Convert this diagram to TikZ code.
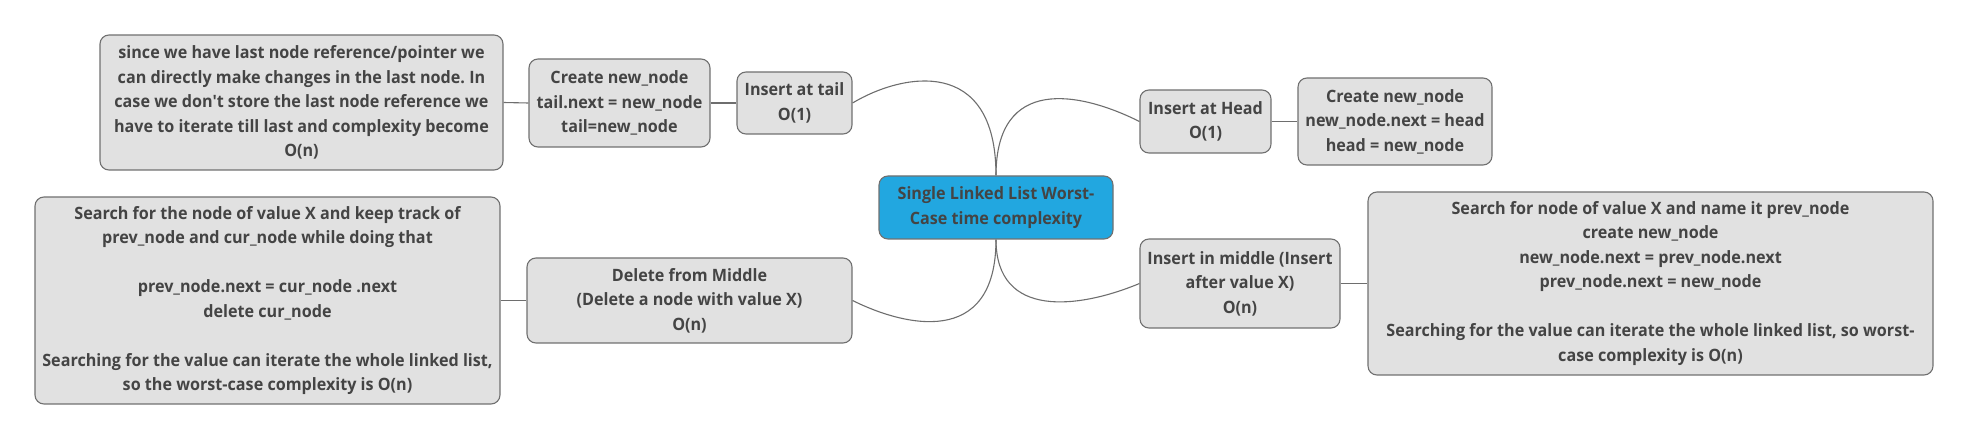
\documentclass[tikz,border=0pt]{standalone}
\usepackage{fontspec}
\setmainfont{Open Sans}[FakeStretch=0.95, Ligatures=TeXOff]
\frenchspacing
\definecolor{txt}{HTML}{444444}
\definecolor{boxfill}{HTML}{E1E1E1}
\definecolor{boxdraw}{HTML}{707070}
\definecolor{rootfill}{HTML}{22A7E0}
\definecolor{linec}{HTML}{6E6E6E}
\begin{document}
\begin{tikzpicture}[x=1pt,y=-1pt,
  box/.style={draw=boxdraw, fill=boxfill, rounded corners=9pt, line width=1.1pt,
    align=center, text=txt, inner sep=0pt,
    font=\fontsize{17}{24.5}\selectfont\bfseries\frenchspacing},
  root/.style={box, fill=rootfill},
  conn/.style={draw=linec, line width=1.1pt}]
\useasboundingbox (0,0) rectangle (1971,443);
\node[box, minimum width=403pt, minimum height=135pt] (A) at (301.5,102.5)
  {since we have last node reference/pointer we\\can directly make changes in the last node. In\\case we don't store the last node reference we\\have to iterate till last and complexity become\\O(n)};
\node[box, minimum width=181pt, minimum height=88pt] (B) at (619.5,103)
  {Create new\_node\\tail.next = new\_node\\tail=new\_node};
\node[box, minimum width=115pt, minimum height=62pt] (C) at (794.5,103)
  {Insert at tail\\O(1)};
\node[root, minimum width=234pt, minimum height=63pt] (R) at (996,207.5)
  {Single Linked List Worst-\\Case time complexity};
\node[box, minimum width=131pt, minimum height=63pt] (H) at (1205.5,121.5)
  {Insert at Head\\O(1)};
\node[box, minimum width=194pt, minimum height=87pt] (HC) at (1395,121.5)
  {Create new\_node\\new\_node.next = head\\head = new\_node};
\node[box, minimum width=325pt, minimum height=85pt] (DM) at (689.5,300.5)
  {Delete from Middle\\(Delete a node with value X)\\O(n)};
\node[box, minimum width=465pt, minimum height=207pt] (D) at (267.5,300.5)
  {Search for the node of value X and keep track of\\prev\_node and cur\_node while doing that\\[24.5pt]prev\_node.next = cur\_node .next\\delete cur\_node\\[24.5pt]Searching for the value can iterate the whole linked list,\\so the worst-case complexity is O(n)};
\node[box, minimum width=200pt, minimum height=89pt] (IM) at (1240,283.5)
  {Insert in middle (Insert\\after value X)\\O(n)};
\node[box, minimum width=565pt, minimum height=183pt] (E) at (1650.5,283.5)
  {Search for node of value X and name it prev\_node\\create new\_node\\new\_node.next = prev\_node.next\\prev\_node.next = new\_node\\[24.5pt]Searching for the value can iterate the whole linked list, so worst-\\case complexity is O(n)};
% straight connectors
\draw[conn] (A.east) -- (B.west);
\draw[conn] (B.east) -- (C.west);
\draw[conn] (H.east) -- (HC.west);
\draw[conn] (D.east) -- (DM.west);
\draw[conn] (IM.east) -- (E.west);
% curved connectors
\draw[conn] (R.north) .. controls +(0,-120) and +(50,-30) .. (C.east);
\draw[conn] (R.north) .. controls +(0,-100) and +(-60,-30) .. (H.west);
\draw[conn] (R.south) .. controls +(0,110) and +(50,25) .. (DM.east);
\draw[conn] (R.south) .. controls +(0,80) and +(-60,25) .. (IM.west);
\end{tikzpicture}
\end{document}
